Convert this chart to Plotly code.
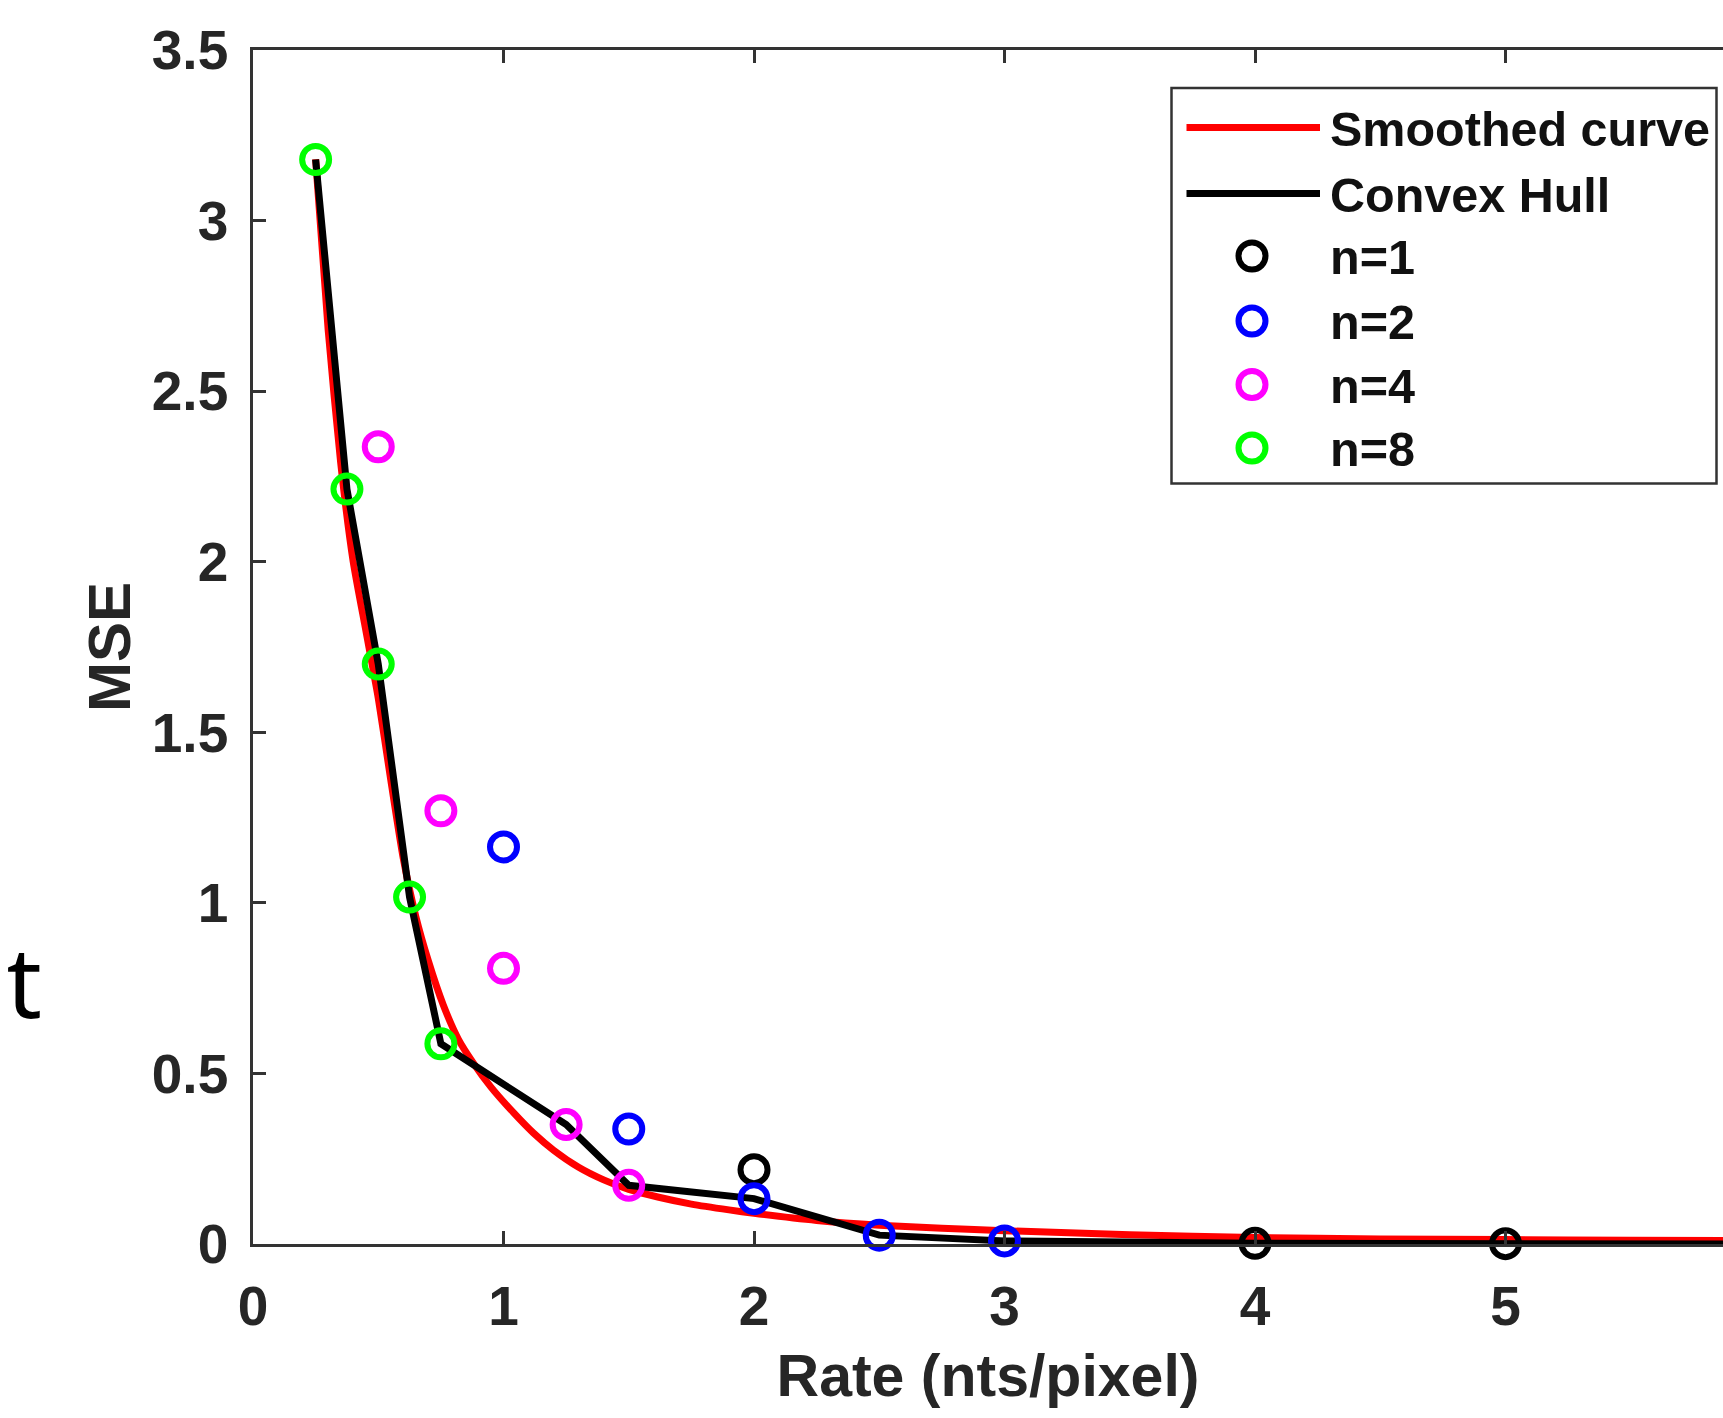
import plotly.graph_objects as go

# ---------------- data ----------------
x_tick_vals = [0, 1, 2, 3, 4, 5, 6]
x_tick_text = ["0", "1", "2", "3", "4", "5", "6"]
y_tick_vals = [0, 0.5, 1, 1.5, 2, 2.5, 3, 3.5]
y_tick_text = ["0", "0.5", "1", "1.5", "2", "2.5", "3", "3.5"]

series_names = ["Smoothed curve", "Convex Hull", "n=1", "n=2", "n=4", "n=8"]

smooth_rate = [0.25, 0.30, 0.35, 0.40, 0.45, 0.50, 0.55, 0.60, 0.65, 0.70, 0.76, 0.82,
               0.88, 0.95, 1.04, 1.12, 1.20, 1.30, 1.40, 1.50, 1.62, 1.75, 1.90, 2.0,
               2.25, 2.5, 2.75, 3.0, 3.5, 4.0, 4.5, 5.0, 5.5, 6.0]
smooth_mse = [3.18, 2.68, 2.29, 2.00, 1.80, 1.60, 1.36, 1.13, 0.96, 0.83, 0.70, 0.60,
              0.53, 0.46, 0.385, 0.325, 0.275, 0.225, 0.188, 0.160, 0.137, 0.117, 0.100, 0.090,
              0.069, 0.055, 0.046, 0.039, 0.027, 0.019, 0.015, 0.013, 0.011, 0.010]

hull_rate = [0.25, 0.375, 0.5, 0.625, 0.75, 1.25, 1.5, 2.0, 2.5, 3.0, 4.0, 5.0, 6.0]
hull_mse = [3.179, 2.213, 1.700, 1.017, 0.587, 0.350, 0.172, 0.133, 0.026, 0.009, 0.002, 0.001, 0.0]

rate_n1 = [2.0, 4.0, 5.0]
mse_n1 = [0.218, 0.002, 0.001]
rate_n2 = [1.0, 1.5, 2.0, 2.5, 3.0]
mse_n2 = [1.164, 0.337, 0.133, 0.026, 0.009]
rate_n4 = [0.5, 0.75, 1.0, 1.25, 1.5]
mse_n4 = [2.337, 1.270, 0.808, 0.350, 0.172]
rate_n8 = [0.25, 0.375, 0.5, 0.625, 0.75]
mse_n8 = [3.179, 2.213, 1.700, 1.017, 0.587]

# ---------------- layout constants ----------------
W, H = 1723, 1418
ML, MR, MT, MB = 253, 0, 50, 174
PX_PER_RATE = 250.5
X_MAX = (W - ML - MR) / PX_PER_RATE
FONT = "Liberation Sans, Arial, Helvetica, sans-serif"
AX_COLOR = "#333333"
TXT_COLOR = "#262626"


def px_to_paper(px, py):
    return (px - ML) / (W - ML - MR), (H - MB - py) / (H - MT - MB)


fig = go.Figure()

fig.add_trace(go.Scatter(x=smooth_rate, y=smooth_mse, mode="lines", name=series_names[0],
                         line=dict(color="#ff0000", width=7, shape="spline", smoothing=0.6),
                         showlegend=False))
fig.add_trace(go.Scatter(x=hull_rate, y=hull_mse, mode="lines", name=series_names[1],
                         line=dict(color="#000000", width=7), showlegend=False))

marker_series = [
    (rate_n1, mse_n1, "#000000", series_names[2]),
    (rate_n2, mse_n2, "#0000ff", series_names[3]),
    (rate_n4, mse_n4, "#ff00ff", series_names[4]),
    (rate_n8, mse_n8, "#00ff00", series_names[5]),
]
for xs, ys, col, nm in marker_series:
    fig.add_trace(go.Scatter(x=xs, y=ys, mode="markers", name=nm, cliponaxis=False,
                             marker=dict(symbol="circle-open", size=27, color=col,
                                         line=dict(color=col, width=6)),
                             showlegend=False))

# ---------------- custom MATLAB-style legend ----------------
shapes = []
annotations = []
bx0, by0 = px_to_paper(1171.5, 88)
bx1, by1 = px_to_paper(1716.5, 483.5)
shapes.append(dict(type="rect", xref="paper", yref="paper", x0=bx0, x1=bx1, y0=by1, y1=by0,
                   line=dict(color=AX_COLOR, width=2.5), fillcolor="white", layer="above"))
row_y = [127.5, 193.5, 256, 321, 384.5, 448]
line_colors = ["#ff0000", "#000000"]
for i, col in enumerate(line_colors):
    lx0, ly = px_to_paper(1186.5, row_y[i])
    lx1, _ = px_to_paper(1320, row_y[i])
    shapes.append(dict(type="line", xref="paper", yref="paper", x0=lx0, x1=lx1, y0=ly, y1=ly,
                       line=dict(color=col, width=7), layer="above"))
for j, (_, _, col, _) in enumerate(marker_series):
    cy = row_y[2 + j]
    cx0, cy0 = px_to_paper(1252 - 13.5, cy + 13.5)
    cx1, cy1 = px_to_paper(1252 + 13.5, cy - 13.5)
    shapes.append(dict(type="circle", xref="paper", yref="paper", x0=cx0, x1=cx1, y0=cy0, y1=cy1,
                       line=dict(color=col, width=6), layer="above"))
for i, nm in enumerate(series_names):
    tx, ty = px_to_paper(1328, row_y[i] + 1)
    annotations.append(dict(text=nm, xref="paper", yref="paper", x=tx, y=ty, xanchor="left",
                            yanchor="middle", showarrow=False,
                            font=dict(family=FONT, size=48.5, color="#111111", weight="bold")))

# stray text fragment at the left edge (cut off in the reference too)
fx, fy = px_to_paper(44, 980)
annotations.append(dict(text="nt", xref="paper", yref="paper", x=fx, y=fy, xanchor="right",
                        yanchor="middle", showarrow=False,
                        font=dict(family="Noto Sans", size=98, color="#000000")))

axis_common = dict(ticks="inside", ticklen=13, tickwidth=2.5, tickcolor=AX_COLOR,
                   showline=True, linecolor=AX_COLOR, linewidth=2.5, showgrid=False,
                   zeroline=False, automargin=False,
                   tickfont=dict(family=FONT, size=55, color=TXT_COLOR, weight="bold"))

fig.update_layout(
    width=W, height=H,
    margin=dict(l=ML, r=MR, t=MT, b=MB),
    paper_bgcolor="white", plot_bgcolor="white",
    showlegend=False,
    xaxis=dict(range=[0, X_MAX], tickmode="array", tickvals=x_tick_vals, ticktext=x_tick_text,
               mirror="ticks", ticklabelstandoff=12,
               title=dict(text="Rate (nts/pixel)", standoff=19,
                          font=dict(family=FONT, size=59, color=TXT_COLOR, weight="bold")),
               **axis_common),
    yaxis=dict(range=[0, 3.5], tickmode="array", tickvals=y_tick_vals, ticktext=y_tick_text,
               mirror=False, ticklabelstandoff=11,
               title=dict(text="MSE", standoff=2,
                          font=dict(family=FONT, size=60, color=TXT_COLOR, weight="bold")),
               **axis_common),
    shapes=shapes,
    annotations=annotations,
)

fig.write_html("out.html", config={"displayModeBar": False},
               post_script="document.body.style.margin='0';document.body.style.overflow='hidden';")
